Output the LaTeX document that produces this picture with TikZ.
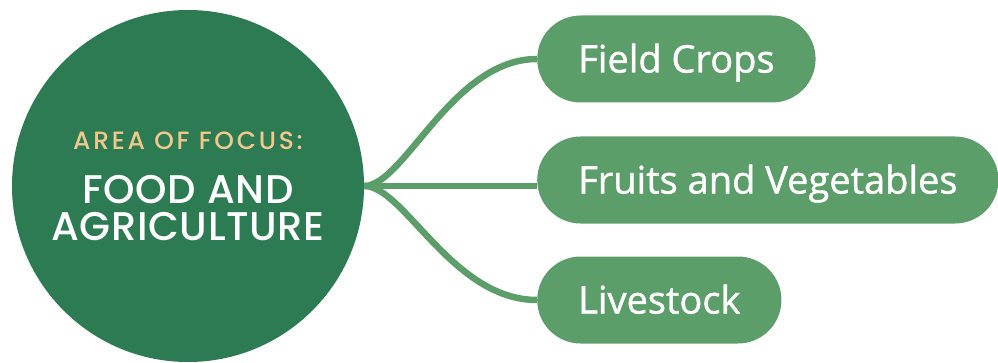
\documentclass[tikz,border=0pt]{standalone}
\usepackage{fontspec}
\usepackage{tikz}
\usetikzlibrary{positioning}
\newfontfamily\headfont{Poppins Medium}[LetterSpace=1.5]
\newfontfamily\kickerfont{Poppins Medium}[LetterSpace=11]
\newfontfamily\pillfont{Open Sans}[FakeBold=1.1]
\definecolor{focusgreen}{HTML}{2D7B53}
\definecolor{leafgreen}{HTML}{5B9E69}
\definecolor{wheat}{HTML}{F1C88C}
\tikzset{
  hub/.style={circle, fill=focusgreen, minimum size=352pt, inner sep=0pt,
    align=center, text=white, font=\headfont\fontsize{40}{37}\selectfont},
  pill/.style={rectangle, rounded corners=43.5pt, fill=leafgreen, anchor=west,
    minimum height=87pt, inner ysep=0pt, inner xsep=41pt, text=white,
    text height=27pt, text depth=0pt, font=\pillfont\fontsize{38}{42}\selectfont},
  branch/.style={draw=leafgreen, line width=6.5pt},
}
\begin{document}
\begin{tikzpicture}[x=1pt,y=1pt]
%
\useasboundingbox (0,0) rectangle (998,362);
%
% centre circle
\node[hub] (focus) at (188,176)
  {{\kickerfont\fontsize{25}{28}\selectfont\color{wheat}AREA OF FOCUS:}\\[17pt]
   FOOD AND\\
   AGRICULTURE};
%
% branches
\node[pill] (crops) at (537,303) {Field Crops};
\node[pill] (fruits) at (537,182) {Fruits and Vegetables};
\node[pill] (stock) at (537,62) {Livestock};
%
\draw[branch] (focus.east) .. controls +(40,0) and +(-85,0) .. (crops.west);
\draw[branch] (focus.east) -- (focus.east -| fruits.west);
\draw[branch] (focus.east) .. controls +(40,0) and +(-85,0) .. (stock.west);
%
\end{tikzpicture}
\end{document}
